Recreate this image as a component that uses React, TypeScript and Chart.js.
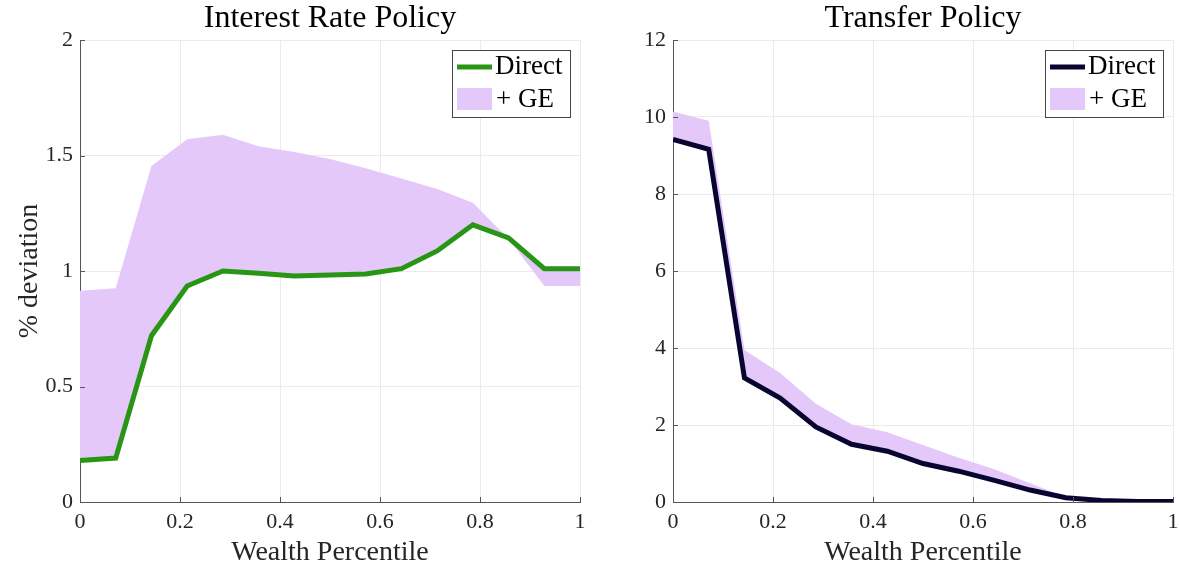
import React, { useEffect, useRef } from "react";
import { Chart, registerables } from "chart.js";

Chart.register(...registerables);

const percentiles = [0, 0.0714, 0.1429, 0.2143, 0.2857, 0.3571, 0.4286, 0.5, 0.5714, 0.6429, 0.7143, 0.7857, 0.8571, 0.9286, 1];

const rateDirect = [0.18, 0.19, 0.72, 0.935, 1.0, 0.99, 0.978, 0.983, 0.987, 1.01, 1.087, 1.2, 1.143, 1.01, 1.01];
const rateGE = [0.915, 0.925, 1.455, 1.57, 1.59, 1.54, 1.515, 1.485, 1.445, 1.4, 1.355, 1.295, 1.14, 0.935, 0.935];

const transferDirect = [9.42, 9.16, 3.22, 2.7, 1.95, 1.5, 1.32, 1.0, 0.8, 0.56, 0.31, 0.11, 0.04, 0.01, 0.01];
const transferGE = [10.14, 9.9, 3.95, 3.35, 2.55, 2.02, 1.81, 1.48, 1.15, 0.85, 0.49, 0.13, 0.05, 0.01, 0.01];

const xTicks = [0, 0.2, 0.4, 0.6, 0.8, 1];
const rateYTicks = [0, 0.5, 1, 1.5, 2];
const transferYTicks = [0, 2, 4, 6, 8, 10, 12];

const FONT = "'Liberation Serif', 'DejaVu Serif', serif";
const TEXT = "#262626";
const AXIS = "#555555";
const GRID = "#ebebeb";
const FILL = "rgb(229,200,250)";

function decorations(lineColor: string, title: string) {
  return {
    id: "decorations",
    afterDraw(chart: any) {
      const ctx = chart.ctx;
      const area = chart.chartArea;
      const xs = chart.scales.x;
      const ys = chart.scales.y;
      ctx.save();
      // title centred over the axes
      ctx.fillStyle = "#000000";
      ctx.font = `32px ${FONT}`;
      ctx.textAlign = "center";
      ctx.textBaseline = "middle";
      ctx.fillText(title, (area.left + area.right) / 2, 19);
      // inward ticks
      ctx.strokeStyle = AXIS;
      ctx.lineWidth = 1;
      xs.ticks.forEach((t: any) => {
        const px = Math.round(xs.getPixelForValue(t.value)) + 0.5;
        ctx.beginPath();
        ctx.moveTo(px, area.bottom);
        ctx.lineTo(px, area.bottom - 5);
        ctx.stroke();
      });
      ys.ticks.forEach((t: any) => {
        const py = Math.round(ys.getPixelForValue(t.value)) + 0.5;
        ctx.beginPath();
        ctx.moveTo(area.left, py);
        ctx.lineTo(area.left + 5, py);
        ctx.stroke();
      });
      // legend box
      const w = 118;
      const h = 67;
      const bx = Math.round(area.right - 10 - w);
      const by = Math.round(area.top + 10);
      ctx.fillStyle = "#ffffff";
      ctx.fillRect(bx, by, w, h);
      ctx.strokeStyle = "#444444";
      ctx.lineWidth = 1;
      ctx.strokeRect(bx + 0.5, by + 0.5, w, h);
      ctx.strokeStyle = lineColor;
      ctx.lineWidth = 5;
      ctx.beginPath();
      ctx.moveTo(bx + 5, by + 17);
      ctx.lineTo(bx + 40, by + 17);
      ctx.stroke();
      ctx.fillStyle = FILL;
      ctx.fillRect(bx + 5, by + 38, 35, 22);
      ctx.fillStyle = "#000000";
      ctx.font = `27px ${FONT}`;
      ctx.textBaseline = "middle";
      ctx.textAlign = "left";
      ctx.fillText("Direct", bx + 43, by + 17);
      ctx.fillText("+ GE", bx + 44, by + 50);
      ctx.restore();
    },
  };
}

function makeConfig(
  title: string,
  direct: number[],
  ge: number[],
  color: string,
  yMax: number,
  yTicks: number[],
  yTitle: string | null,
  yWidth: number,
  leftPad: number,
  rightPad: number
): any {
  return {
    type: "line",
    data: {
      labels: percentiles,
      datasets: [
        {
          label: "Direct",
          data: percentiles.map((x, i) => ({ x, y: direct[i] })),
          borderColor: color,
          borderWidth: 5,
          pointRadius: 0,
          fill: false,
          tension: 0,
          borderJoinStyle: "miter",
        },
        {
          label: "+ GE",
          data: percentiles.map((x, i) => ({ x, y: ge[i] })),
          borderColor: "rgba(0,0,0,0)",
          borderWidth: 0,
          backgroundColor: FILL,
          pointRadius: 0,
          fill: 0,
          tension: 0,
        },
      ],
    },
    options: {
      animation: false,
      responsive: false,
      maintainAspectRatio: false,
      layout: { padding: { left: leftPad, right: rightPad, top: 40, bottom: 0 } },
      plugins: {
        legend: { display: false },
        tooltip: { enabled: false },
        title: { display: false },
      },
      scales: {
        x: {
          type: "linear",
          min: 0,
          max: 1,
          afterBuildTicks: (scale: any) => {
            scale.ticks = xTicks.map((v) => ({ value: v }));
          },
          afterFit: (scale: any) => {
            scale.height = 67;
            scale.paddingRight = 0;
            scale.paddingLeft = 0;
          },
          ticks: {
            color: TEXT,
            font: { family: FONT, size: 22 },
            padding: 7,
            maxRotation: 0,
            callback: (v: any) => String(v),
          },
          grid: { color: GRID, drawTicks: false },
          border: { color: AXIS, width: 1 },
          title: {
            display: true,
            text: "Wealth Percentile",
            color: TEXT,
            font: { family: FONT, size: 28 },
            padding: { top: 0, bottom: 0 },
          },
        },
        y: {
          type: "linear",
          min: 0,
          max: yMax,
          afterBuildTicks: (scale: any) => {
            scale.ticks = yTicks.map((v) => ({ value: v }));
          },
          afterFit: (scale: any) => {
            scale.width = yWidth;
            scale.paddingTop = 0;
            scale.paddingBottom = 0;
          },
          ticks: {
            color: TEXT,
            font: { family: FONT, size: 22 },
            padding: 7,
            callback: (v: any) => String(v),
          },
          grid: { color: GRID, drawTicks: false },
          border: { color: AXIS, width: 1 },
          title: {
            display: !!yTitle,
            text: yTitle || "",
            color: TEXT,
            font: { family: FONT, size: 28 },
            padding: { top: 0, bottom: 2 },
          },
        },
      },
    },
    plugins: [decorations(color, title)],
  };
}

export default function App() {
  const leftRef = useRef<HTMLCanvasElement>(null);
  const rightRef = useRef<HTMLCanvasElement>(null);

  useEffect(() => {
    const c1 = new Chart(
      leftRef.current as HTMLCanvasElement,
      makeConfig("Interest Rate Policy", rateDirect, rateGE, "rgb(40,150,20)", 2, rateYTicks, "% deviation", 67, 13, 10)
    );
    const c2 = new Chart(
      rightRef.current as HTMLCanvasElement,
      makeConfig("Transfer Policy", transferDirect, transferGE, "rgb(8,6,48)", 12, transferYTicks, null, 83, 0, 6)
    );
    return () => {
      c1.destroy();
      c2.destroy();
    };
  }, []);

  return (
    <div style={{ position: "fixed", left: 0, top: 0, width: 1179, height: 569, background: "#ffffff" }}>
      <canvas ref={leftRef} width={590} height={569} style={{ position: "absolute", left: 0, top: 0, width: 590, height: 569 }} />
      <canvas ref={rightRef} width={589} height={569} style={{ position: "absolute", left: 590, top: 0, width: 589, height: 569 }} />
    </div>
  );
}
